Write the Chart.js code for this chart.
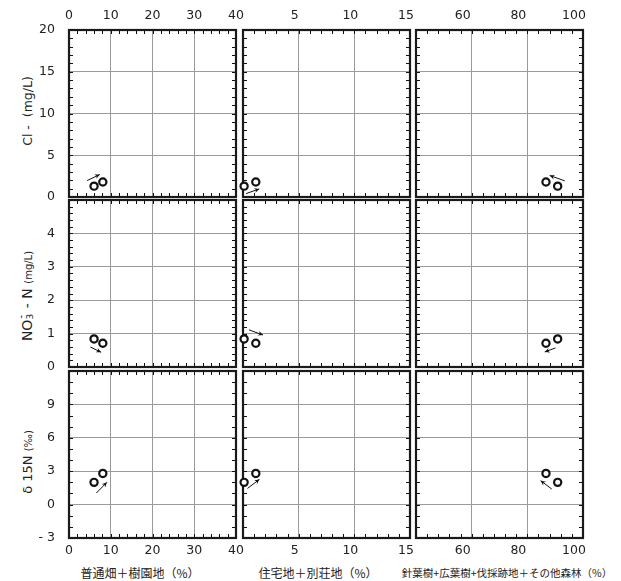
<!DOCTYPE html>
<html>
<head>
<meta charset="utf-8">
<script src="https://cdn.jsdelivr.net/npm/chart.js@4.4.0/dist/chart.umd.min.js"></script>
<style>
  body { margin: 0; background: #fff; width: 621px; height: 581px; position: relative; overflow: hidden; font-family: "DejaVu Sans", sans-serif; color: #222; }
  canvas { position: absolute; }
  .ytitle { position: absolute; transform: translate(-50%, -50%) rotate(-90deg); white-space: nowrap; font-size: 12.5px; }
  .ytitle small { font-size: 10px; }
  .ytitle sub, .ytitle sup { font-size: 9px; }
  .xtitle { position: absolute; transform: translate(-50%, -50%); white-space: nowrap; font-family: "Noto Sans CJK JP", sans-serif; font-size: 12px; }
</style>
</head>
<body>
<div class="ytitle" style="left:27px; top:111px;">Cl -&nbsp; (mg/L)</div>
<div class="ytitle" style="left:27px; top:296px; font-size:14px;">NO<span style="display:inline-block; position:relative; width:7px; height:10px;"><span style="position:absolute; left:0; top:3px; font-size:9px;">3</span><span style="position:absolute; left:1px; top:-7px; font-size:10px;">-</span></span> - N <small>(mg/L)</small></div>
<div class="ytitle" style="left:27px; top:462px; font-size:13px;">δ 15N <small>(‰)</small></div>
<div class="xtitle" style="left:140px; top:572px;">普通畑＋樹園地（%）</div>
<div class="xtitle" style="left:318px; top:572px;">住宅地＋別荘地（%）</div>
<div class="xtitle" style="left:507px; top:572px; font-size:10.5px;">針葉樹+広葉樹+伐採跡地＋その他森林（%）</div>

<script>
// two samples: first one and second one (arrow goes from first to second)
const agriPct = [6.0, 8.1];      // 普通畑＋樹園地 (%)
const urbanPct = [0.1, 1.15];    // 住宅地＋別荘地 (%)
const forestPct = [90.9, 86.7];  // 針葉樹+広葉樹+伐採跡地＋その他森林 (%)

const clValues = [1.3, 1.8];     // Cl- (mg/L)
const no3Values = [0.84, 0.71];  // NO3- - N (mg/L)
const d15nValues = [2.0, 2.8];   // δ15N (‰)

const agriTicks = [0, 10, 20, 30, 40];
const urbanTicks = [0, 5, 10, 15];
const forestTicks = [40, 60, 80, 100];
const clTicks = [0, 5, 10, 15, 20];
const no3Ticks = [0, 1, 2, 3, 4, 5];
const d15nTicks = [-3, 0, 3, 6, 9, 12];

const colX = [agriPct, urbanPct, forestPct];
const rowY = [clValues, no3Values, d15nValues];

const xAxes = [
  { ticks: agriTicks, minor: 2, hide: [], labelOffset: 0 },
  { ticks: urbanTicks, minor: 1, hide: [0], labelOffset: -4 },
  { ticks: forestTicks, minor: 4, hide: [40], labelOffset: -9 }
];
const yAxes = [
  { ticks: clTicks, minor: 1, hide: [] },
  { ticks: no3Ticks, minor: 0.2, hide: [5] },
  { ticks: d15nTicks, minor: 1, hide: [12] }
];

// plot area layout
const colLeft = [69, 243, 416];
const rowTop = [30, 200, 371];
const plotW = 167, plotH = 167;
const padL = 50, padR = 10, padT = 30, padB = 30;

// arrow placement per panel [row][col]: offset of arrow centre from the pair's midpoint, length
const arrowPlace = [
  [{ dx: -5, dy: -6.5, len: 14 }, { dx: 2.7, dy: 7.2, len: 14 }, { dx: 5.4, dy: -5.9, len: 16 }],
  [{ dx: -2.7, dy: 8.5, len: 12 }, { dx: 6, dy: -8.7, len: 15 }, { dx: -1.7, dy: 8.8, len: 11.5 }],
  [{ dx: 3.2, dy: 9.8, len: 15 }, { dx: 3.5, dy: 6, len: 15 }, { dx: -5.6, dy: 7, len: 14 }]
];

const tickFont = { family: '"DejaVu Sans", sans-serif', size: 12.5 };

function panelPlugin(xa, ya, arrow) {
  return {
    id: 'panelFrame',
    beforeDatasetsDraw(chart) {
      const { ctx, chartArea: a, scales: { x, y } } = chart;
      const xmin = xa.ticks[0], xmax = xa.ticks[xa.ticks.length - 1];
      const ymin = ya.ticks[0], ymax = ya.ticks[ya.ticks.length - 1];
      ctx.save();
      ctx.strokeStyle = '#111';
      ctx.lineWidth = 1;
      ctx.beginPath();
      const nx = Math.round((xmax - xmin) / xa.minor);
      for (let i = 1; i < nx; i++) {
        const px = Math.round(x.getPixelForValue(xmin + i * xa.minor)) + 0.5;
        ctx.moveTo(px, a.top); ctx.lineTo(px, a.top + 4);
        ctx.moveTo(px, a.bottom); ctx.lineTo(px, a.bottom - 4);
      }
      const ny = Math.round((ymax - ymin) / ya.minor);
      for (let i = 1; i < ny; i++) {
        const py = Math.round(y.getPixelForValue(ymin + i * ya.minor)) + 0.5;
        ctx.moveTo(a.left, py); ctx.lineTo(a.left + 4, py);
        ctx.moveTo(a.right, py); ctx.lineTo(a.right - 4, py);
      }
      ctx.stroke();
      ctx.lineWidth = 2.2;
      ctx.strokeStyle = '#1a1a1a';
      ctx.strokeRect(a.left, a.top, a.right - a.left, a.bottom - a.top);
      ctx.restore();
    },
    afterDatasetsDraw(chart) {
      const pts = chart.getDatasetMeta(0).data;
      if (pts.length < 2) return;
      const p = pts[0], q = pts[1];
      let ux = q.x - p.x, uy = q.y - p.y;
      const d = Math.hypot(ux, uy) || 1;
      ux /= d; uy /= d;
      const mx = (p.x + q.x) / 2 + arrow.dx, my = (p.y + q.y) / 2 + arrow.dy;
      const tx = mx - ux * arrow.len / 2, ty = my - uy * arrow.len / 2;
      const hx = mx + ux * arrow.len / 2, hy = my + uy * arrow.len / 2;
      const ctx = chart.ctx;
      ctx.save();
      ctx.strokeStyle = '#111';
      ctx.fillStyle = '#111';
      ctx.lineWidth = 1;
      ctx.beginPath();
      ctx.moveTo(tx, ty); ctx.lineTo(hx, hy);
      ctx.stroke();
      const ang = Math.atan2(uy, ux), hl = 5.5, hw = 0.45;
      ctx.beginPath();
      ctx.moveTo(hx, hy);
      ctx.lineTo(hx - hl * Math.cos(ang - hw), hy - hl * Math.sin(ang - hw));
      ctx.lineTo(hx - hl * 0.6 * Math.cos(ang), hy - hl * 0.6 * Math.sin(ang));
      ctx.lineTo(hx - hl * Math.cos(ang + hw), hy - hl * Math.sin(ang + hw));
      ctx.closePath();
      ctx.fill();
      ctx.restore();
    }
  };
}

function makePanel(r, c) {
  const xa = xAxes[c], ya = yAxes[r];
  const canvas = document.createElement('canvas');
  const w = padL + plotW + padR, h = padT + plotH + padB;
  canvas.width = w; canvas.height = h;
  canvas.style.left = (colLeft[c] - padL) + 'px';
  canvas.style.top = (rowTop[r] - padT) + 'px';
  canvas.style.width = w + 'px';
  canvas.style.height = h + 'px';
  document.body.appendChild(canvas);

  const xs = colX[c], ys = rowY[r];
  const points = xs.map((v, i) => ({ x: v, y: ys[i] }));
  const showX = r === 0 || r === 2;
  const showY = c === 0;

  new Chart(canvas.getContext('2d'), {
    type: 'scatter',
    data: {
      datasets: [{
        data: points,
        pointStyle: 'circle',
        pointRadius: 3.6,
        pointBorderWidth: 2.2,
        borderColor: '#111',
        backgroundColor: '#fff',
        clip: false
      }]
    },
    options: {
      responsive: false,
      animation: false,
      events: [],
      devicePixelRatio: 1,
      layout: { padding: { left: 0, right: padR, top: r === 0 ? 0 : padT, bottom: r === 0 ? padB : 0 } },
      plugins: { legend: { display: false }, tooltip: { enabled: false } },
      scales: {
        x: {
          type: 'linear',
          position: r === 0 ? 'top' : 'bottom',
          min: xa.ticks[0],
          max: xa.ticks[xa.ticks.length - 1],
          afterBuildTicks: s => { s.ticks = xa.ticks.map(v => ({ value: v })); },
          afterFit: s => { s.height = padT; s.paddingLeft = 0; s.paddingRight = 0; },
          border: { display: false },
          grid: { color: '#9a9a9a', lineWidth: 1, drawTicks: false },
          ticks: {
            display: showX,
            color: '#222',
            font: tickFont,
            padding: r === 0 ? 7 : 5,
            maxRotation: 0,
            autoSkip: false,
            labelOffset: xa.labelOffset,
            callback: v => (xa.hide.includes(v) ? '' : String(v))
          }
        },
        y: {
          type: 'linear',
          min: ya.ticks[0],
          max: ya.ticks[ya.ticks.length - 1],
          afterBuildTicks: s => { s.ticks = ya.ticks.map(v => ({ value: v })); },
          afterFit: s => { s.width = padL; s.paddingTop = 0; s.paddingBottom = 0; },
          border: { display: false },
          grid: { color: '#9a9a9a', lineWidth: 1, drawTicks: false },
          ticks: {
            display: showY,
            color: '#222',
            font: tickFont,
            padding: 14,
            autoSkip: false,
            callback: v => (ya.hide.includes(v) ? '' : (v < 0 ? '- ' + Math.abs(v) : String(v)))
          }
        }
      }
    },
    plugins: [panelPlugin(xa, ya, arrowPlace[r][c])]
  });
}

for (let r = 0; r < 3; r++) {
  for (let c = 0; c < 3; c++) makePanel(r, c);
}
</script>
</body>
</html>
